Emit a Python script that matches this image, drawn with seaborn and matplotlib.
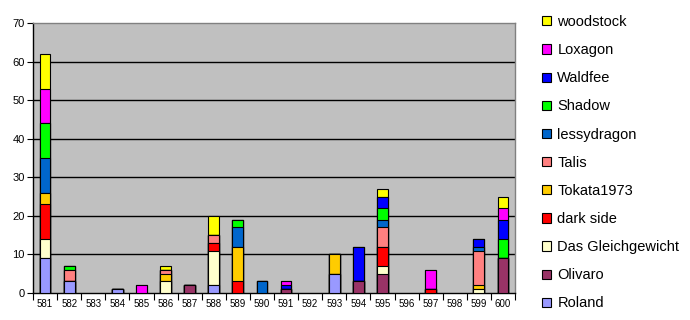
import numpy as np
import pandas as pd
import matplotlib
matplotlib.use("Agg")
import matplotlib.pyplot as plt
import seaborn as sns
from matplotlib.patches import Patch

categories = [str(c) for c in range(581, 601)]

# stack order bottom -> top
series_names = ["Roland", "Olivaro", "Das Gleichgewicht", "dark side", "Tokata1973",
                "Talis", "lessydragon", "Shadow", "Waldfee", "Loxagon", "woodstock"]

#               581 582 583 584 585 586 587 588 589 590 591 592 593 594 595 596 597 598 599 600
roland       = [9, 3, 0, 1, 0, 0, 0, 2, 0, 0, 0, 0, 5, 0, 0, 0, 0, 0, 0, 0]
olivaro      = [0, 0, 0, 0, 0, 0, 2, 0, 0, 0, 1, 0, 0, 3, 5, 0, 0, 0, 0, 9]
gleichgew    = [5, 0, 0, 0, 0, 3, 0, 9, 0, 0, 0, 0, 0, 0, 2, 0, 0, 0, 1, 0]
dark_side    = [9, 0, 0, 0, 0, 0, 0, 2, 3, 0, 0, 0, 0, 0, 5, 0, 1, 0, 0, 0]
tokata       = [3, 0, 0, 0, 0, 2, 0, 0, 9, 0, 0, 0, 5, 0, 0, 0, 0, 0, 1, 0]
talis        = [0, 3, 0, 0, 0, 1, 0, 2, 0, 0, 0, 0, 0, 0, 5, 0, 0, 0, 9, 0]
lessydragon  = [9, 0, 0, 0, 0, 0, 0, 0, 5, 3, 0, 0, 0, 0, 2, 0, 0, 0, 1, 0]
shadow       = [9, 1, 0, 0, 0, 0, 0, 0, 2, 0, 0, 0, 0, 0, 3, 0, 0, 0, 0, 5]
waldfee      = [0, 0, 0, 0, 0, 0, 0, 0, 0, 0, 1, 0, 0, 9, 3, 0, 0, 0, 2, 5]
loxagon      = [9, 0, 0, 0, 2, 0, 0, 0, 0, 0, 1, 0, 0, 0, 0, 0, 5, 0, 0, 3]
woodstock    = [9, 0, 0, 0, 0, 1, 0, 5, 0, 0, 0, 0, 0, 0, 2, 0, 0, 0, 0, 3]

series_values = [roland, olivaro, gleichgew, dark_side, tokata, talis,
                 lessydragon, shadow, waldfee, loxagon, woodstock]

colors = {
    "Roland": "#9999FF",
    "Olivaro": "#993366",
    "Das Gleichgewicht": "#FFFFCC",
    "dark side": "#FF0000",
    "Tokata1973": "#FFCC00",
    "Talis": "#FF8080",
    "lessydragon": "#0066CC",
    "Shadow": "#00FF00",
    "Waldfee": "#0000FF",
    "Loxagon": "#FF00FF",
    "woodstock": "#FFFF00",
}

plt.rcParams['font.family'] = ['Liberation Sans', 'DejaVu Sans']

fig = plt.figure(figsize=(6.9, 3.2), dpi=100)
ax = fig.add_axes([33/690, 27/320, 482/690, 270/320])
ax.set_facecolor("#C0C0C0")

cum = np.cumsum(np.array(series_values, dtype=float), axis=0)
# draw top cumulative first, lower layers on top of it
for i in range(len(series_names) - 1, -1, -1):
    heights = cum[i].copy()
    df = pd.DataFrame({"cat": categories, "val": heights})
    df = df[df["val"] > 0]
    sns.barplot(data=df, x="cat", y="val", order=categories, color=colors[series_names[i]],
                width=0.45, edgecolor="black", linewidth=0.8, errorbar=None, ax=ax,
                saturation=1, zorder=3)

ax.set_xlim(-0.46, 19.5)
ax.set_ylim(0, 70)
ax.set_yticks(range(0, 71, 10))
ax.set_xlabel("")
ax.set_ylabel("")
ax.grid(False)
for y in range(10, 70, 10):
    ax.axhline(y, color="black", linewidth=1, zorder=1)

ax.tick_params(axis="y", labelsize=8, length=4, width=0.8, pad=2)
ax.tick_params(axis="x", which="major", labelsize=7, length=0, pad=4)
ax.set_xticks(np.arange(-0.5, 19.6, 1), minor=True)
ax.tick_params(axis="x", which="minor", length=5, width=0.8)
for s in ["left", "bottom"]:
    ax.spines[s].set_color("black")
    ax.spines[s].set_linewidth(1)
for s in ["top", "right"]:
    ax.spines[s].set_color("#808080")
    ax.spines[s].set_linewidth(1)

handles = [Patch(facecolor=colors[n], edgecolor="black", linewidth=0.8) for n in series_names[::-1]]
fig.legend(handles, series_names[::-1], loc="upper left", bbox_to_anchor=(542/690, 1 - 15/320),
           frameon=False, fontsize=10.5, handlelength=0.6, handleheight=0.6,
           handletextpad=0.45, labelspacing=0.97, borderaxespad=0, borderpad=0)

fig.savefig("out.png", dpi=100)
